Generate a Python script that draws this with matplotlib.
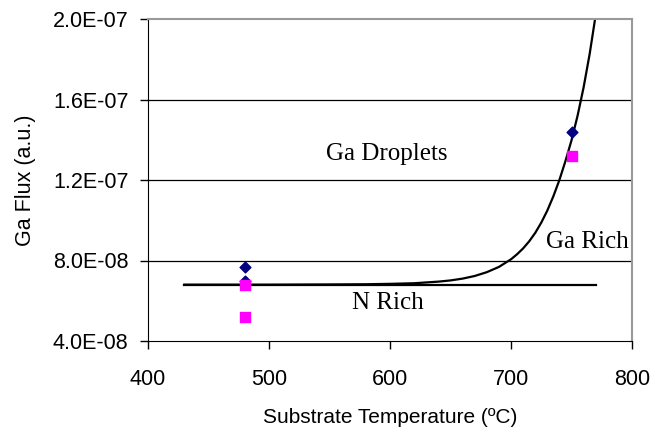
import matplotlib.pyplot as plt
from matplotlib.ticker import FuncFormatter

# measured points
diamond_t = [480, 480, 750]
diamond_flux = [7.7e-08, 7.0e-08, 1.44e-07]
square_t = [480, 480, 750]
square_flux = [6.8e-08, 5.2e-08, 1.32e-07]

# N rich / Ga rich boundary (flat line)
bound_t = [430, 770]
bound_flux = [6.8e-08, 6.8e-08]

# droplet boundary curve
curve_t = [430, 500, 550, 580, 600, 620, 640, 650, 660, 670, 680, 690, 700,
           705, 710, 715, 720, 725, 730, 735, 740, 745, 750, 755, 760, 765, 770]
curve_flux = [6.80e-08, 6.80e-08, 6.81e-08, 6.82e-08, 6.84e-08, 6.87e-08,
              6.95e-08, 7.01e-08, 7.10e-08, 7.23e-08, 7.42e-08, 7.68e-08,
              8.06e-08, 8.31e-08, 8.60e-08, 8.95e-08, 9.37e-08, 9.88e-08,
              1.048e-07, 1.119e-07, 1.20e-07, 1.294e-07, 1.397e-07,
              1.519e-07, 1.66e-07, 1.826e-07, 2.02e-07]

fig = plt.figure(figsize=(6.64, 4.29), dpi=100)
ax = fig.add_axes([148 / 664, 1 - 341 / 429, 484 / 664, 322 / 429])

for y in [8e-08, 1.2e-07, 1.6e-07]:
    ax.axhline(y, color="black", lw=0.9, zorder=1)

ax.plot(bound_t, bound_flux, color="black", lw=1.6, zorder=2)
ax.plot(curve_t, curve_flux, color="black", lw=1.6, zorder=2)
ax.scatter(diamond_t, diamond_flux, marker="D", s=30, color="#000080", zorder=3)
ax.scatter(square_t, square_flux, marker="s", s=50, color="#FF00FF", zorder=3)

serif = "Liberation Serif"
ax.text(597, 1.33e-07, "Ga Droplets", fontsize=18, family=serif, ha="center", va="center")
ax.text(763, 8.9e-08, "Ga Rich", fontsize=18, family=serif, ha="center", va="center")
ax.text(598, 5.9e-08, "N Rich", fontsize=18, family=serif, ha="center", va="center")

ax.set_xlim(400, 800)
ax.set_ylim(4e-08, 2e-07)
ax.set_xticks([400, 500, 600, 700, 800])
ax.set_yticks([4e-08, 8e-08, 1.2e-07, 1.6e-07, 2e-07])
ax.yaxis.set_major_formatter(FuncFormatter(lambda v, p: "%.1E" % v))

sans = "Liberation Sans"
for lab in ax.get_xticklabels() + ax.get_yticklabels():
    lab.set_family(sans)
    lab.set_fontsize(15.5)
ax.tick_params(direction="out", length=6, width=1)
ax.tick_params(axis="x", pad=14)
ax.tick_params(axis="y", pad=8)

ax.set_xlabel("Substrate Temperature (ºC)", family=sans, fontsize=15, labelpad=13)
ax.set_ylabel("Ga Flux (a.u.)", family=sans, fontsize=15.5, labelpad=12)

for s in ["left", "bottom"]:
    ax.spines[s].set_color("black")
for s in ["top", "right"]:
    ax.spines[s].set_color("#999999")
    ax.spines[s].set_linewidth(1.5)

fig.savefig("out.png", dpi=100)
